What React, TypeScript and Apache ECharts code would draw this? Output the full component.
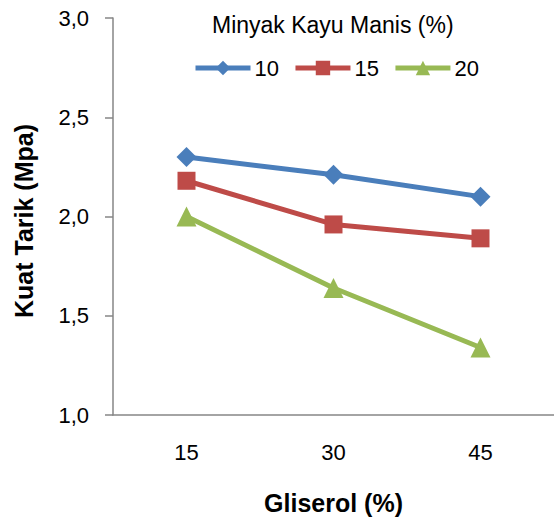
import React, { useEffect, useRef } from "react";
import * as echarts from "echarts";

const categories = ["15", "30", "45"];
const seriesNames = ["10", "15", "20"];
const values10 = [2.3, 2.21, 2.1];
const values15 = [2.18, 1.96, 1.89];
const values20 = [2.0, 1.64, 1.34];
const colors = ["#4A7EBB", "#BE4B48", "#98B954"];
const symbols = ["diamond", "rect", "triangle"];
const symbolSizes = [20, 18, 20];
const yAxisTitle = "Kuat Tarik (Mpa)";

export default function App() {
  const ref = useRef<HTMLDivElement>(null);
  useEffect(() => {
    if (!ref.current) return;
    const chart = echarts.init(ref.current, undefined, { renderer: "svg" });
    const data = [values10, values15, values20];
    const font = "'Liberation Sans', Arial, sans-serif";
    chart.setOption({
      animation: false,
      textStyle: { fontFamily: font },
      title: {
        text: "Minyak Kayu Manis (%)",
        left: 212,
        top: 13,
        padding: 0,
        textStyle: { fontSize: 23, fontWeight: "normal", color: "#000", fontFamily: font },
      },
      legend: {
        left: 193,
        top: 57,
        padding: 0,
        itemWidth: 55,
        itemHeight: 18,
        itemGap: 14,
        data: seriesNames,
        lineStyle: { width: 5 },
        textStyle: { fontSize: 22, color: "#000", fontFamily: font, padding: [0, 0, 0, -1] },
      },
      graphic: [
        {
          type: "text",
          x: 24,
          y: 221,
          rotation: Math.PI / 2,
          style: {
            text: yAxisTitle,
            align: "center",
            verticalAlign: "middle",
            fill: "#000",
            font: "bold 25px 'Liberation Sans', Arial, sans-serif",
          },
        },
      ],
      grid: { left: 113, right: -3, top: 18, bottom: 105 },
      xAxis: {
        type: "category",
        data: categories,
        boundaryGap: true,
        axisLine: { lineStyle: { color: "#868686", width: 1.5 } },
        axisTick: { show: false },
        axisLabel: { fontSize: 22, color: "#000", margin: 26, fontFamily: font },
        name: "Gliserol (%)",
        nameLocation: "middle",
        nameGap: 75,
        nameTextStyle: { fontSize: 25, fontWeight: "bold", color: "#000", fontFamily: font },
      },
      yAxis: {
        type: "value",
        min: 1,
        max: 3,
        interval: 0.5,
        axisLine: { show: true, lineStyle: { color: "#868686", width: 1.5 } },
        axisTick: { show: true, length: 8, lineStyle: { color: "#868686", width: 1.5 } },
        splitLine: { show: false },
        axisLabel: {
          fontSize: 22,
          color: "#000",
          margin: 24,
          fontFamily: font,
          formatter: (v: number) => v.toFixed(1).replace(".", ","),
        },
      },
      series: seriesNames.map((n, i) => ({
        name: n,
        type: "line",
        data: data[i],
        symbol: symbols[i],
        symbolSize: symbolSizes[i],
        showAllSymbol: true,
        color: colors[i],
        lineStyle: { color: colors[i], width: 5 },
        itemStyle: { color: colors[i] },
      })),
    });
    return () => chart.dispose();
  }, []);
  return (
    <div
      ref={ref}
      style={{ position: "absolute", left: 0, top: 0, width: 554, height: 520, background: "#fff" }}
    />
  );
}
